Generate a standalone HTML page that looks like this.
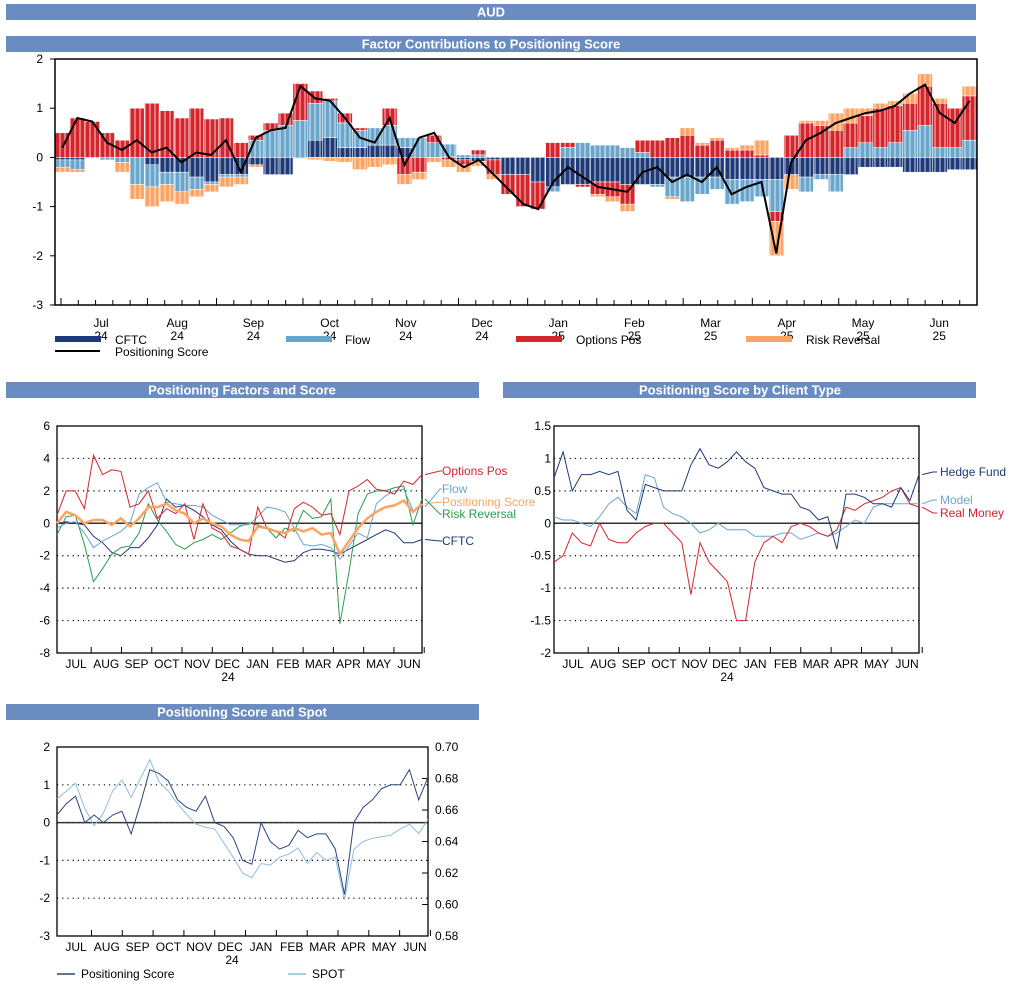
<!DOCTYPE html>
<html><head><meta charset="utf-8"><style>
html,body{margin:0;padding:0;background:#fff;}
svg{display:block;font-family:"Liberation Sans",sans-serif;}
</style></head><body>
<svg id="root" width="1013" height="981" viewBox="0 0 1013 981" xmlns="http://www.w3.org/2000/svg">
<g font-weight="bold" font-size="13" fill="#fff" text-anchor="middle">
<rect x="6" y="4" width="970" height="16" fill="#6a8cc0"/>
<text x="491" y="16.5">AUD</text>
<rect x="6" y="36" width="970" height="16" fill="#6a8cc0"/>
<text x="491" y="48.5">Factor Contributions to Positioning Score</text>
<rect x="6" y="382" width="473" height="16" fill="#6a8cc0"/>
<text x="242" y="394.5">Positioning Factors and Score</text>
<rect x="503" y="382" width="473" height="16" fill="#6a8cc0"/>
<text x="740" y="394.5">Positioning Score by Client Type</text>
<rect x="6" y="704" width="473" height="16" fill="#6a8cc0"/>
<text x="242" y="716.5">Positioning Score and Spot</text>
</g>
<g id="c1"></g>
<g id="c2"></g>
<g id="c3"></g>
<g id="c4"></g>
</svg>
<script>
// ---- Chart 1 data ----
const c1Months = ["Jul","Aug","Sep","Oct","Nov","Dec","Jan","Feb","Mar","Apr","May","Jun"];
const c1Years = ["24","24","24","24","24","24","25","25","25","25","25","25"];
const c1YTicks = [2,1,0,-1,-2,-3];
const cftc = [-0.05,-0.05,0,0,0,0,-0.15,-0.3,-0.3,-0.4,-0.5,-0.35,-0.35,-0.15,-0.35,-0.35,-0.02,0.35,0.4,0.2,0.2,0.25,0.25,0.2,0,0,0.02,-0.05,-0.08,-0.05,
 -0.35,-0.35,-0.5,-0.6,-0.55,-0.55,-0.5,-0.5,-0.55,-0.55,-0.55,-0.4,-0.4,-0.4,-0.4,-0.45,-0.45,-0.45,-0.45,-0.35,-0.4,-0.35,-0.35,-0.35,-0.2,-0.2,-0.2,-0.3,-0.3,-0.3,-0.25,-0.25];
const flow = [-0.15,-0.2,-0.02,-0.05,-0.1,-0.55,-0.45,-0.25,-0.4,-0.25,-0.05,-0.05,-0.05,0.35,0.55,0.65,0.75,0.75,0.75,0.5,0.35,0.35,0.4,0.2,0.4,0.3,0.25,0.05,0.05,0,
 0,0,0,-0.1,0.2,0.3,0.25,0.25,0.2,0.1,-0.05,-0.4,-0.5,-0.35,-0.25,-0.5,-0.45,-0.35,-0.65,0,-0.3,-0.1,-0.35,0.2,0.3,0.2,0.3,0.55,0.65,0.2,0.2,0.35];
const optionsPos = [0.5,0.8,0.73,0.5,0.35,1.0,1.1,0.95,0.8,1.0,0.78,0.8,0.3,0.1,0.15,0.25,0.75,0.25,0.05,0.2,0.05,0,0.35,-0.35,-0.3,0.15,-0.05,-0.1,0.1,-0.3,
 -0.4,-0.65,-0.55,0.3,0.1,-0.05,-0.25,-0.3,-0.4,0.25,0.35,0.4,0.45,0.25,0.35,0.15,0.15,0.05,-0.2,0.45,0.7,0.65,0.55,0.5,0.55,0.8,0.75,0.55,0.8,0.9,0.8,0.9];
const riskRev = [-0.1,-0.05,0,0,-0.2,-0.3,-0.4,-0.35,-0.25,-0.15,-0.15,-0.2,-0.15,-0.05,0,0,0.02,-0.05,-0.08,-0.1,-0.25,-0.2,-0.15,-0.2,-0.15,-0.1,-0.15,-0.15,-0.1,-0.1,
 0,0,0,0,0,0,-0.05,-0.1,-0.15,0,0,-0.05,0.15,0.05,0.05,0.05,0.1,0.3,-0.7,-0.3,0.05,0.1,0.35,0.3,0.15,0.1,0.1,0.2,0.25,0.1,0,0.2];
const c1Score = [0.2,0.8,0.73,0.3,0.15,0.35,0.1,0.2,-0.1,0.1,0.05,0.35,-0.3,0.4,0.55,0.6,1.45,1.2,1.15,0.8,0.4,0.3,0.8,-0.15,0.4,0.5,0,-0.2,-0.05,-0.35,
 -0.65,-0.95,-1.05,-0.5,-0.2,-0.4,-0.6,-0.65,-0.7,-0.3,-0.2,-0.5,-0.35,-0.5,-0.2,-0.75,-0.6,-0.5,-1.95,-0.1,0.35,0.5,0.7,0.8,0.9,0.95,1.05,1.3,1.48,0.9,0.7,1.15];

// ---- Chart 2 data ----
const c2Months = ["JUL","AUG","SEP","OCT","NOV","DEC","JAN","FEB","MAR","APR","MAY","JUN"];
const c2YTicks = [6,4,2,0,-2,-4,-6,-8];
const f2Options = [0.5,2.0,2.0,0.9,4.2,3.0,3.3,3.2,1.0,1.2,2.0,0.3,0.9,0.6,1.2,-1.0,1.2,-0.3,-0.6,-1.4,-1.6,-1.9,1.0,-0.3,-0.5,-0.9,0.9,1.3,1.0,0.5,0.6,-0.7,2.0,2.3,2.7,2.1,2.0,1.8,2.6,2.4,3.0];
const f2Flow = [-0.3,0.0,0.1,-0.6,-1.5,-1.1,-0.8,-0.5,0.0,1.8,2.2,2.5,1.3,1.2,1.1,1.1,1.0,0.5,0.2,-0.1,-0.1,-0.1,0.4,1.0,0.9,0.7,-0.3,-1.3,-1.4,-1.3,-1.5,-2.2,-1.4,-0.6,-0.9,1.2,1.7,2.0,2.1,0.8,1.0];
const f2Risk = [-0.7,0.4,0.5,-1.3,-3.6,-2.8,-1.9,-1.5,-1.4,-0.6,1.2,0.2,-0.5,-1.3,-1.6,-1.2,-1.0,-0.7,-1.0,-0.6,-0.2,0.0,-0.1,-0.3,-0.9,-0.3,-0.5,0.8,0.3,0.4,1.5,-6.2,-3.0,0.6,1.8,2.0,2.0,2.2,2.3,-0.1,1.5];
const f2Cftc = [0.0,0.1,0.0,-0.1,-0.8,-1.2,-1.8,-2.0,-1.5,-1.5,-0.9,-0.1,1.5,1.0,1.1,0.8,0.4,-0.1,-0.4,-1.1,-1.6,-1.9,-2.0,-2.0,-2.2,-2.4,-2.3,-1.8,-1.6,-1.6,-1.7,-1.9,-1.6,-1.3,-1.0,-0.7,-0.4,-0.6,-1.2,-1.2,-1.0];
const f2Score = [0.0,0.7,0.5,0.0,0.2,0.2,-0.1,0.3,-0.2,0.3,1.0,1.0,1.2,0.8,0.6,0.0,0.3,0.0,-0.2,-0.7,-1.0,-1.1,-0.2,-0.3,-0.5,-0.6,-0.3,-0.5,-0.3,-0.7,-0.6,-1.9,-1.1,-0.3,0.3,0.7,1.0,1.1,1.4,0.7,1.2];

// ---- Chart 3 data ----
const c3YTicks = [1.5,1.0,0.5,0.0,-0.5,-1.0,-1.5,-2.0];
const hedgeFund = [0.7,1.1,0.5,0.75,0.75,0.8,0.75,0.8,0.2,0.05,0.6,0.55,0.5,0.5,0.5,0.9,1.15,0.9,0.85,0.95,1.1,0.95,0.85,0.55,0.5,0.45,0.45,0.25,0.2,0.05,0.1,-0.4,0.45,0.45,0.4,0.3,0.3,0.25,0.55,0.35,0.75];
const model = [0.1,0.05,0.05,0.0,-0.05,0.1,0.3,0.4,0.25,0.15,0.75,0.7,0.25,0.15,0.1,0.0,-0.15,-0.1,0.0,-0.1,-0.1,-0.1,-0.2,-0.2,-0.2,-0.15,-0.15,-0.25,-0.2,-0.15,-0.2,-0.15,-0.05,0.05,0.0,0.25,0.3,0.3,0.3,0.3,0.3];
const realMoney = [-0.6,-0.5,-0.15,-0.3,-0.35,0.0,-0.25,-0.3,-0.3,-0.15,-0.05,0.0,0.0,-0.15,-0.3,-1.1,-0.3,-0.6,-0.75,-0.9,-1.5,-1.5,-0.6,-0.3,-0.2,-0.3,-0.05,0.0,-0.05,-0.15,-0.2,-0.1,0.25,0.2,0.3,0.35,0.4,0.5,0.55,0.3,0.25];

// ---- Chart 4 data ----
const c4YTicks = [2,1,0,-1,-2,-3];
const c4RTicks = [0.70,0.68,0.66,0.64,0.62,0.60,0.58];
const c4Score = [0.2,0.5,0.7,0.0,0.2,0.0,0.2,0.3,-0.3,0.5,1.4,1.3,1.1,0.6,0.4,0.3,0.7,0.0,-0.1,-0.4,-1.0,-1.1,0.0,-0.5,-0.7,-0.6,-0.2,-0.4,-0.3,-0.3,-0.7,-1.9,0.0,0.4,0.6,0.9,1.0,1.0,1.4,0.6,1.2];
const spot = [0.667,0.672,0.677,0.661,0.650,0.658,0.672,0.679,0.668,0.680,0.692,0.678,0.672,0.664,0.657,0.651,0.649,0.648,0.639,0.630,0.620,0.617,0.626,0.625,0.630,0.632,0.636,0.626,0.633,0.628,0.630,0.603,0.635,0.640,0.642,0.643,0.644,0.648,0.651,0.645,0.654];

const NS = "http://www.w3.org/2000/svg";
function mk(parent, tag, attrs, text){
  const e = document.createElementNS(NS, tag);
  for (const k in attrs) e.setAttribute(k, attrs[k]);
  if (text !== undefined) e.textContent = text;
  parent.appendChild(e);
  return e;
}
function lin(d0,d1,r0,r1){ return v => r0 + (v-d0)/(d1-d0)*(r1-r0); }
function pathFrom(vals, xf, yf){
  return vals.map((v,i)=>(i?"L":"M")+xf(i).toFixed(1)+","+yf(v).toFixed(1)).join("");
}

// ===== Chart 1 =====
(function(){
  const g = document.getElementById("c1");
  const L=55, R=977, T=59, B=305;
  const y = lin(2,-3,T,B);
  const N = cftc.length, step = (R-L)/N;
  const xc = i => L + step*(i+0.5);
  c1YTicks.forEach(t=>{
    const tl = mk(g,"text",{x:43,y:y(t)+4,"font-size":12,"text-anchor":"end",fill:"#000"}, String(t));
    
    
    const tk = mk(g,"line",{x1:L-5,x2:L,y1:y(t),y2:y(t),stroke:"#000"});
    
    
  });
  const series = [[cftc,"#1f3a78","bar-cftc"],[flow,"#6aa6cc","bar-flow"],[optionsPos,"#d4252c","bar-options-pos"],[riskRev,"#fda363","bar-risk-reversal"]];
  for (let i=0;i<N;i++){
    let pos=0, neg=0;
    series.forEach(([arr,col,name])=>{
      const v = arr[i]; if (!v) return;
      let y0,y1;
      if (v>0){ y0=y(pos+v); y1=y(pos); pos+=v; } else { y0=y(neg); y1=y(neg+v); neg+=v; }
      const r = mk(g,"rect",{x:(xc(i)-step/2).toFixed(1),y:y0.toFixed(1),width:step.toFixed(1),height:Math.max(0,y1-y0).toFixed(1),fill:col,stroke:"#fff","stroke-width":0.5});
      
      
    });
  }
  // thin white bar separators (texture of daily bars)
  const sepG = mk(g,"g",{stroke:"#fff","stroke-width":0.9,opacity:0.85});
  
  
  for (let xx=L+5; xx<R; xx+=5){
    mk(sepG,"line",{x1:xx,x2:xx,y1:T+1,y2:B-1});
  }
  const ln = mk(g,"path",{d:pathFrom(c1Score,xc,y),fill:"none",stroke:"#000","stroke-width":2});
  
  
  const fr = mk(g,"rect",{x:L,y:T,width:R-L,height:B-T,fill:"none",stroke:"#000","stroke-width":1.5});
  
  
  for (let k=0;k<54;k++){
    const xx = L+6+k*(R-L-6)/53;
    const t = mk(g,"line",{x1:xx,x2:xx,y1:B,y2:B-(k%4.4<1?7:5),stroke:"#000"});
    
    
  }
  c1Months.forEach((m,k)=>{
    const xx = 101 + k*76.2;
    const a = mk(g,"text",{x:xx,y:327,"font-size":12,"text-anchor":"middle"}, m);
    
    
    const b = mk(g,"text",{x:xx,y:340,"font-size":12,"text-anchor":"middle"}, c1Years[k]);
    
    
  });
  const legend = [["CFTC","#1f3a78",55,115],["Flow","#6aa6cc",286,345],["Options Pos","#d4252c",516,576],["Risk Reversal","#fda363",746,806]];
  legend.forEach(([t,c,x0,tx])=>{
    const s = mk(g,"rect",{x:x0,y:336,width:46,height:6,fill:c});
    
    
    const tt = mk(g,"text",{x:tx,y:344,"font-size":12}, t);
    
    
  });
  const sl = mk(g,"line",{x1:55,x2:100,y1:351,y2:351,stroke:"#000","stroke-width":2});
  
  
  const st = mk(g,"text",{x:115,y:356,"font-size":12}, "Positioning Score");
  
  
})();

function lineChart(g, L, R, T, B, yt, xMonths, labelX, yearX){
  const y = lin(yt[0], yt[yt.length-1], T, B);
  yt.forEach(t=>{
    const txt = (Math.abs(t)<1e-9 && String(yt[1]).includes(".")) ? "0.0" : (String(yt[1]).includes(".") ? t.toFixed(1) : String(t));
    const tl = mk(g,"text",{x:labelX,y:y(t)+4,"font-size":12,"text-anchor":"end"}, txt);
    
    
    if (t!==yt[0] && t!==yt[yt.length-1]){
      const gl = mk(g,"line",{x1:L,x2:R,y1:y(t),y2:y(t),stroke:"#000","stroke-dasharray":"1.2,4","stroke-width":1.2});
      
      
    }
  });
  const z = mk(g,"line",{x1:L,x2:R,y1:y(0),y2:y(0),stroke:"#333","stroke-width":1.5});
  
  
  const fr = mk(g,"rect",{x:L,y:T,width:R-L,height:B-T,fill:"none",stroke:"#000","stroke-width":1.3});
  
  
  const sp = (R-L)/12;
  c2Months.forEach((m,k)=>{
    const xx = xMonths[0] + k*(xMonths[1]-xMonths[0])/11;
    const a = mk(g,"text",{x:xx,y:B+15,"font-size":12,"text-anchor":"middle"}, m);
    
    
    const tk = mk(g,"line",{x1:xx+sp/2,x2:xx+sp/2,y1:B,y2:B-6,stroke:"#000"});
    
    
  });
  const yr = mk(g,"text",{x:yearX,y:B+28,"font-size":12,"text-anchor":"middle"}, "24");
  
  
  return y;
}

// ===== Chart 2 =====
(function(){
  const g = document.getElementById("c2");
  const L=57, R=422, T=426, B=653;
  const y = lineChart(g,L,R,T,B,c2YTicks,[76,409],50,228);
  const x = lin(0,f2Options.length-1,L,R);
  const s = [[f2Cftc,"#1f3a78",1,"cftc-line"],[f2Risk,"#2e9a4e",1,"risk-reversal-line"],[f2Flow,"#6aa6cc",1,"flow-line"],[f2Options,"#d4252c",1,"options-pos-line"],[f2Score,"#fda363",2.5,"positioning-score-line"]];
  s.forEach(([arr,c,w,n])=>{
    const p = mk(g,"path",{d:pathFrom(arr,x,y),fill:"none",stroke:c,"stroke-width":w});
    
    
  });
  const labs = [["Options Pos","#d4252c",475,f2Options],["Flow","#6aa6cc",493,f2Flow],["Positioning Score","#fda363",506,f2Score],["Risk Reversal","#2e9a4e",518,f2Risk],["CFTC","#1f3a78",545,f2Cftc]];
  labs.forEach(([t,c,ly,arr])=>{
    const ey = y(arr[arr.length-1]);
    const l = mk(g,"path",{d:`M${R+3},${ey.toFixed(1)}L${R+18},${ly-4}L${R+20},${ly-4}`,fill:"none",stroke:c});
    
    
    const tt = mk(g,"text",{x:442,y:ly,"font-size":12,fill:c}, t);
    
    
  });
})();

// ===== Chart 3 =====
(function(){
  const g = document.getElementById("c3");
  const L=554, R=919, T=426, B=653;
  const y = lineChart(g,L,R,T,B,c3YTicks,[573,907],551,727);
  const x = lin(0,hedgeFund.length-1,L,R);
  const s = [[model,"#6aa6cc","model-line"],[realMoney,"#d4252c","real-money-line"],[hedgeFund,"#1f3a78","hedge-fund-line"]];
  s.forEach(([arr,c,n])=>{
    const p = mk(g,"path",{d:pathFrom(arr,x,y),fill:"none",stroke:c,"stroke-width":1});
    
    
  });
  const labs = [["Hedge Fund","#1f3a78",476,hedgeFund],["Model","#6aa6cc",504,model],["Real Money","#d4252c",517,realMoney]];
  labs.forEach(([t,c,ly,arr])=>{
    const ey = y(arr[arr.length-1]);
    const l = mk(g,"path",{d:`M${R+3},${ey.toFixed(1)}L${R+14},${ly-4}L${R+18},${ly-4}`,fill:"none",stroke:c});
    
    
    const tt = mk(g,"text",{x:940,y:ly,"font-size":12,fill:c}, t);
    
    
  });
})();

// ===== Chart 4 =====
(function(){
  const g = document.getElementById("c4");
  const L=57, R=428, T=747, B=936;
  const y = lineChart(g,L,R,T,B,c4YTicks,[76,415],50,232);
  const yr = lin(0.70,0.58,T,B);
  c4RTicks.forEach(t=>{
    const tl = mk(g,"text",{x:435,y:yr(t)+4,"font-size":12}, t.toFixed(2));
    
    
    const tk = mk(g,"line",{x1:R,x2:R-6,y1:yr(t),y2:yr(t),stroke:"#000"});
    
    
  });
  const x = lin(0,c4Score.length-1,L,R);
  const p1 = mk(g,"path",{d:pathFrom(spot,x,yr),fill:"none",stroke:"#8cbfe0","stroke-width":1});
  
  
  const p2 = mk(g,"path",{d:pathFrom(c4Score,x,y),fill:"none",stroke:"#2b4580","stroke-width":1});
  
  
  [["Positioning Score","#2b4580",57,81],["SPOT","#8cbfe0",288,312]].forEach(([t,c,x0,tx])=>{
    const l = mk(g,"line",{x1:x0,x2:x0+18,y1:974,y2:974,stroke:c,"stroke-width":1.5});
    
    
    const tt = mk(g,"text",{x:tx,y:978,"font-size":12}, t);
    
    
  });
})();
</script>
</body></html>
